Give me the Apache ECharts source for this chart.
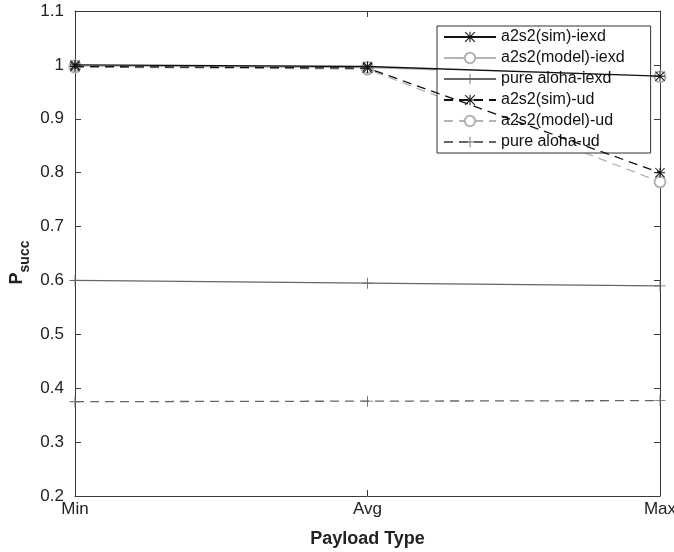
<!DOCTYPE html>
<html>
<head>
<meta charset="utf-8">
<script src="https://cdn.jsdelivr.net/npm/echarts@6/dist/echarts.min.js"></script>
<style>html,body{margin:0;padding:0;background:#fff}#c{width:674px;height:552px}</style>
</head>
<body>
<div id="c"></div>
<script>
const categories = ['Min', 'Avg', 'Max'];
const simIexd = [1.0, 0.997, 0.979];
const modelIexd = [0.998, 0.995, 0.978];
const alohaIexd = [0.600, 0.595, 0.590];
const simUd = [0.997, 0.994, 0.800];
const modelUd = [0.996, 0.992, 0.783];
const alohaUd = [0.375, 0.376, 0.377];
const yTicks = [0.2, 0.3, 0.4, 0.5, 0.6, 0.7, 0.8, 0.9, 1, 1.1];
const legendNames = ['a2s2(sim)-iexd', 'a2s2(model)-iexd', 'pure aloha-iexd', 'a2s2(sim)-ud', 'a2s2(model)-ud', 'pure aloha-ud'];

const STAR = 'path://M9,0L11,0L11,20L9,20Z M0,9L20,9L20,11L0,11Z M1.4,0L20,18.6L18.6,20L0,1.4Z M18.6,0L20,1.4L1.4,20L0,18.6Z';
const PLUS = 'path://M9.2,0L10.8,0L10.8,20L9.2,20Z M0,9.2L20,9.2L20,10.8L0,10.8Z';

const cBlack = '#111111', cLight = '#b3b3b3', cDark = '#666666';
const font = 'Liberation Sans, Arial, Helvetica, sans-serif';
const axisColor = '#3a3a3a';

function mk(name, data, color, dashed, symbol, size, z) {
  return {
    name, type: 'line', data, z,
    symbol, symbolSize: size, showSymbol: true,
    lineStyle: { color, width: 1.3, type: dashed ? [9, 6] : 'solid' },
    itemStyle: symbol === 'emptyCircle'
      ? { color, borderWidth: 1.3 }
      : { color, borderWidth: 0 },
    animation: false
  };
}

const chart = echarts.init(document.getElementById('c'));
chart.setOption({
  backgroundColor: '#fff',
  animation: false,
  grid: { left: 75, right: 14, top: 11, bottom: 56, containLabel: false, outerBoundsMode: 'none' },
  legend: {
    orient: 'vertical', left: 437, top: 26,
    backgroundColor: '#fff', borderColor: '#333', borderWidth: 1, borderRadius: 0,
    padding: [2, 26, 2, 6], itemGap: 3, itemWidth: 52, itemHeight: 13,
    textStyle: { fontFamily: font, fontSize: 16, color: '#111', lineHeight: 18, padding: [0, 0, 0, 0] },
    data: legendNames
  },
  xAxis: [{
    type: 'category', data: categories, boundaryGap: false,
    name: 'Payload Type', nameLocation: 'middle', nameGap: 34,
    nameTextStyle: { fontFamily: font, fontSize: 18, fontWeight: 'bold', color: '#222' },
    axisLine: { lineStyle: { color: axisColor, width: 1 } },
    axisTick: { inside: true, length: 6, alignWithLabel: true, lineStyle: { color: axisColor } },
    axisLabel: { fontFamily: font, fontSize: 17, color: '#222', margin: 5 },
    splitLine: { show: false }
  }, {
    type: 'category', data: categories, boundaryGap: false, position: 'top',
    axisLine: { lineStyle: { color: axisColor, width: 1 } },
    axisTick: { inside: true, length: 6, lineStyle: { color: axisColor } },
    axisLabel: { show: false }, splitLine: { show: false }
  }],
  yAxis: [{
    type: 'value', min: 0.2, max: 1.1, interval: 0.1,
    name: '{p|P}{s|succ}', nameLocation: 'middle', nameGap: 43, nameRotate: 90,
    nameMoveOverlap: false,
    nameTextStyle: {
      padding: [0, 18, 0, 0],
      rich: {
        p: { fontFamily: font, fontSize: 18, fontWeight: 'bold', color: '#222', verticalAlign: 'top', lineHeight: 24 },
        s: { fontFamily: font, fontSize: 14, fontWeight: 'bold', color: '#222', verticalAlign: 'bottom', lineHeight: 24, padding: [9, 0, 0, 0] }
      }
    },
    axisLine: { show: true, lineStyle: { color: axisColor, width: 1 } },
    axisTick: { show: true, inside: true, length: 6, lineStyle: { color: axisColor } },
    axisLabel: {
      fontFamily: font, fontSize: 17, color: '#222', margin: 11,
      formatter: v => { const t = yTicks.find(x => Math.abs(x - v) < 1e-6); return t === undefined ? '' : String(t); }
    },
    splitLine: { show: false }
  }, {
    type: 'value', min: 0.2, max: 1.1, interval: 0.1, position: 'right',
    axisLine: { show: true, lineStyle: { color: axisColor, width: 1 } },
    axisTick: { show: true, inside: true, length: 6, lineStyle: { color: axisColor } },
    axisLabel: { show: false }, splitLine: { show: false }
  }],
  series: [
    mk('pure aloha-ud', alohaUd, cDark, true, PLUS, 11, 2),
    mk('pure aloha-iexd', alohaIexd, cDark, false, PLUS, 11, 2),
    mk('a2s2(model)-ud', modelUd, cLight, true, 'emptyCircle', 11, 3),
    mk('a2s2(model)-iexd', modelIexd, cLight, false, 'emptyCircle', 11, 3),
    mk('a2s2(sim)-ud', simUd, cBlack, true, STAR, 10, 4),
    mk('a2s2(sim)-iexd', simIexd, cBlack, false, STAR, 10, 4)
  ]
});
</script>
</body>
</html>
